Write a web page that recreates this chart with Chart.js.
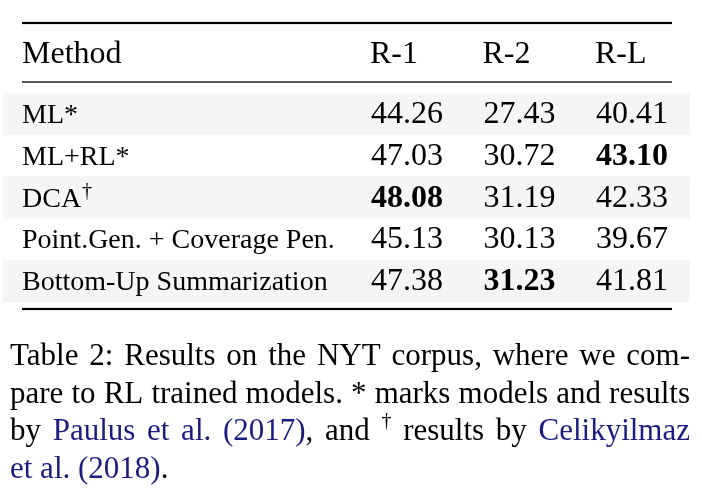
<!DOCTYPE html>
<html>
<head>
<meta charset="utf-8">
<script src="https://cdn.jsdelivr.net/npm/chart.js@4"></script>
<style>
  html, body { margin: 0; padding: 0; background: #fff; }
  canvas { display: block; }
</style>
</head>
<body>
<canvas id="tableChart" width="702" height="496"></canvas>
<script>
// Table data
const methods = ['ML*', 'ML+RL*', 'DCA†', 'Point.Gen. + Coverage Pen.', 'Bottom-Up Summarization'];
const columns = ['R-1', 'R-2', 'R-L'];
const r1 = [44.26, 47.03, 48.08, 45.13, 47.38];
const r2 = [27.43, 30.72, 31.19, 30.13, 31.23];
const rl = [40.41, 43.10, 42.33, 39.67, 41.81];
const striped = [true, false, true, false, true];

const captionLines = [
    'Table 2: Results on the NYT corpus, where we com-',
    'pare to RL trained models. * marks models and results',
    'by {Paulus} {et} {al.} {(2017)}, and ^† results by {Celikyilmaz}',
    '{et} {al.} {(2018)}.'
];

const SERIF = '"Liberation Serif", "Times New Roman", serif';
const LINK = '#1b1b80';
const series = [r1, r2, rl];

// best value of each column is set in bold
const best = series.map(s => s.indexOf(Math.max(...s)));

function rule(ctx, y, w) {
    ctx.fillStyle = '#000';
    ctx.fillRect(22, y - w / 2, 650, w);
}

// split a caption line into words made of styled pieces
function parseLine(line) {
    return line.split(' ').map(word => word.split(/(\{[^}]*\})/).filter(p => p).map(p => {
        if (p[0] === '{') return { t: p.slice(1, -1), c: LINK, sup: false };
        if (p[0] === '^') return { t: p.slice(1), c: '#000', sup: true };
        return { t: p, c: '#000', sup: false };
    }));
}

function pieceFont(p, size) {
    return (p.sup ? Math.round(size * 0.65) : size) + 'px ' + SERIF;
}

function drawJustified(ctx, line, y, left, right, justify, size) {
    const words = parseLine(line);
    const widths = words.map(w => w.reduce((s, p) => {
        ctx.font = pieceFont(p, size);
        return s + ctx.measureText(p.t).width;
    }, 0));
    const total = widths.reduce((a, b) => a + b, 0);
    ctx.font = size + 'px ' + SERIF;
    const gap = justify ? (right - left - total) / (words.length - 1) : ctx.measureText(' ').width;
    let x = left;
    words.forEach(w => {
        w.forEach(p => {
            ctx.font = pieceFont(p, size);
            ctx.fillStyle = p.c;
            ctx.fillText(p.t, x, p.sup ? y - size * 0.42 : y);
            x += ctx.measureText(p.t).width;
        });
        x += gap;
    });
}

const tablePlugin = {
    id: 'tableText',
    afterDatasetsDraw(chart) {
        const { ctx, scales: { y, col } } = chart;
        ctx.save();
        ctx.textBaseline = 'alphabetic';

        rule(ctx, 23, 2.2);
        rule(ctx, 82, 1.3);
        rule(ctx, 309, 2.2);

        // header
        ctx.fillStyle = '#000';
        ctx.font = '32px ' + SERIF;
        ctx.textAlign = 'left';
        ctx.fillText('Method', 22, 62.5);
        columns.forEach((c, j) => {
            ctx.fillText(c, col.getPixelForValue(j + 1) - 37, 62.5);
        });

        // rows
        methods.forEach((m, i) => {
            const yb = y.getPixelForValue(i) + 9;
            ctx.textAlign = 'left';
            ctx.font = '28px ' + SERIF;
            const dag = m.endsWith('†');
            const name = dag ? m.slice(0, -1) : m;
            ctx.fillText(name, 22, yb);
            if (dag) {
                const w = ctx.measureText(name).width;
                ctx.font = '20px ' + SERIF;
                ctx.fillText('†', 22 + w + 1, yb - 10);
            }
            ctx.textAlign = 'center';
            series.forEach((s, j) => {
                ctx.font = (best[j] === i ? 'bold ' : '') + '32px ' + SERIF;
                ctx.fillText(s[i].toFixed(2), col.getPixelForValue(j + 1), yb);
            });
        });

        // caption
        ctx.textAlign = 'left';
        captionLines.forEach((line, k) => {
            drawJustified(ctx, line, 365 + k * 37.5, 10, 690, k < captionLines.length - 1, 31);
        });
        ctx.restore();
    }
};

const ctx = document.getElementById('tableChart').getContext('2d');
new Chart(ctx, {
    type: 'bar',
    data: {
        labels: methods,
        datasets: [{
            data: striped.map(s => s ? [0, 1] : null),
            backgroundColor: '#f5f5f5',
            borderWidth: 0,
            categoryPercentage: 1,
            barPercentage: 1
        }]
    },
    options: {
        indexAxis: 'y',
        responsive: false,
        devicePixelRatio: 1,
        animation: false,
        layout: { padding: { left: 3, right: 12, top: 93, bottom: 194 } },
        plugins: { legend: { display: false }, tooltip: { enabled: false } },
        scales: {
            x: { type: 'linear', min: 0, max: 1, display: false },
            col: { type: 'linear', axis: 'x', min: -2.5911, max: 3.5156, display: false },
            y: { type: 'category', display: false, offset: true }
        }
    },
    plugins: [tablePlugin]
});
</script>
</body>
</html>
